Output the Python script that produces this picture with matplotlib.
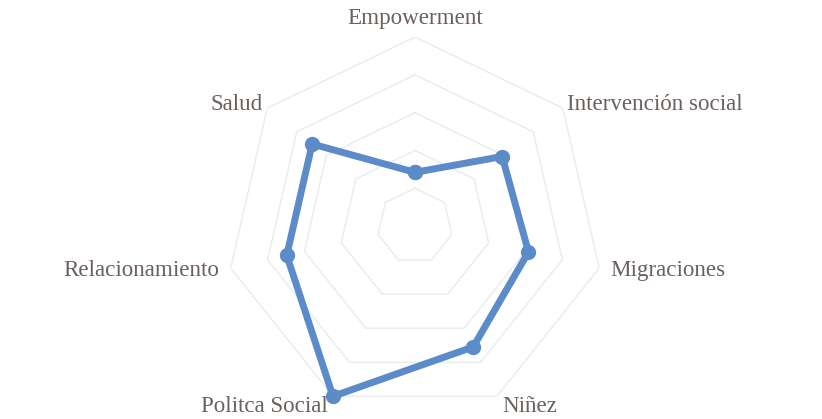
import numpy as np
import matplotlib
matplotlib.use("Agg")
import matplotlib.pyplot as plt

categories = ["Empowerment", "Intervención social", "Migraciones", "Niñez",
              "Politca Social", "Relacionamiento", "Salud"]
values = [1.42, 2.95, 3.08, 3.55, 5.0, 3.48, 3.48]
levels = [1, 2, 3, 4, 5]

n = len(categories)
theta = np.linspace(0, 2 * np.pi, n, endpoint=False)
theta_c = np.append(theta, theta[0])

fig = plt.figure(figsize=(8.22, 4.19), dpi=100)
ax = fig.add_axes([0.2749, 0.0095, 0.4599, 0.9021], projection="polar")
ax.set_theta_offset(np.pi / 2)
ax.set_theta_direction(-1)
ax.set_ylim(0, 5)
ax.grid(False)
ax.spines["polar"].set_visible(False)
ax.set_xticks([])
ax.set_yticks([])
ax.patch.set_alpha(0)

for lv in levels:
    ax.plot(theta_c, [lv] * (n + 1), color="#ececec", lw=1.1, zorder=1)

vals_c = values + [values[0]]
ax.plot(theta_c, vals_c, color="#5b8bc8", lw=5, zorder=3,
        marker="o", markersize=10, solid_joinstyle="round", clip_on=False)

label_specs = [("center", 5.48), ("left", 5.15), ("left", 5.3), ("left", 5.3),
               ("right", 5.3), ("right", 5.3), ("right", 5.15)]
for t, lab, (ha, r) in zip(theta, categories, label_specs):
    ax.text(t, r, lab, ha=ha, va="center", fontsize=16.6,
            family="Liberation Serif", color="#6b605c", zorder=2)

fig.savefig("out.png", dpi=100)
